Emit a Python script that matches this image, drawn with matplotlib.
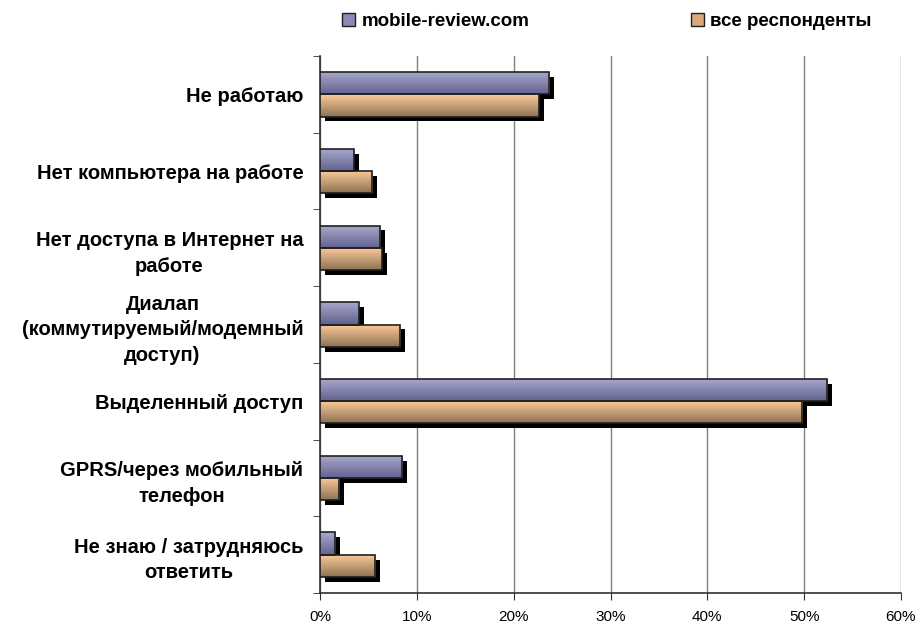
import numpy as np
import matplotlib
matplotlib.use("Agg")
import matplotlib.pyplot as plt
import matplotlib.patheffects as pe
from matplotlib.patches import Patch

plt.rcParams['font.family'] = ['Liberation Sans', 'DejaVu Sans']

categories = [
    "Не работаю",
    "Нет компьютера на работе",
    "Нет доступа в Интернет на\nработе",
    "Диалап\n(коммутируемый/модемный\nдоступ)",
    "Выделенный доступ",
    "GPRS/через мобильный\nтелефон",
    "Не знаю / затрудняюсь\nответить",
]
mobile_review = [23.7, 3.5, 6.2, 4.0, 52.4, 8.5, 1.6]
all_resp = [22.6, 5.4, 6.4, 8.3, 49.8, 2.0, 5.7]
series_names = ["mobile-review.com", "все респонденты"]
x_ticks = [0, 10, 20, 30, 40, 50, 60]


def gradient_bars(ax, bars, top_col, bot_col):
    grad = np.linspace(0, 1, 64).reshape(-1, 1)
    c1 = np.array(matplotlib.colors.to_rgb(top_col))
    c2 = np.array(matplotlib.colors.to_rgb(bot_col))
    img = c1 + (c2 - c1) * grad[..., None]
    for b in bars:
        x0, y0 = b.get_x(), b.get_y()
        w, h = b.get_width(), b.get_height()
        im = ax.imshow(img, extent=[x0, x0 + w, y0 + h, y0], aspect='auto',
                       origin='upper', zorder=3, interpolation='bilinear')
        im.set_clip_path(b)
        # outline on top
        ax.add_patch(plt.Rectangle((x0, y0), w, h, fill=False,
                                   edgecolor='#202020', lw=1.2, zorder=4))


fig = plt.figure(figsize=(9.15, 6.25), dpi=100)
ax = fig.add_axes([320 / 915, 32 / 625, 581 / 915, 537 / 625])

y = np.arange(len(categories))
h = 0.29
shadow = [pe.SimplePatchShadow(offset=(3.5, -3.5), shadow_rgbFace='black', alpha=1.0), pe.Normal()]

b1 = ax.barh(y - h / 2, mobile_review, height=h, color='#8a8ab4', zorder=3)
b2 = ax.barh(y + h / 2, all_resp, height=h, color='#d8a878', zorder=3)
for b in list(b1) + list(b2):
    b.set_path_effects(shadow)
gradient_bars(ax, b1, '#aaaace', '#62628f')
gradient_bars(ax, b2, '#ffcc99', '#8e7256')

ax.set_ylim(len(categories) - 0.5, -0.5)
ax.set_xlim(0, 60)
ax.set_xticks(x_ticks)
ax.set_xticklabels([f"{t}%" for t in x_ticks], fontsize=11)
ax.set_yticks(y)
ax.set_yticklabels(categories, fontsize=14.5, fontweight='bold', ha='right',
                   multialignment='center', linespacing=1.45)
ax.tick_params(axis='y', length=0, pad=12)
ax.set_yticks(np.arange(-0.5, len(categories), 1), minor=True)
ax.tick_params(axis='y', which='minor', length=5, direction='out', color='#303030')
ax.tick_params(axis='x', length=5, direction='out', color='#303030', pad=7)

ax.grid(axis='x', color='#808080', lw=1, zorder=0)
ax.set_axisbelow(True)
for s in ['top', 'right']:
    ax.spines[s].set_visible(False)
for s in ['left', 'bottom']:
    ax.spines[s].set_color('#303030')
    ax.spines[s].set_linewidth(1.2)

handles = [Patch(facecolor='#8a8ab4', edgecolor='#202020'),
           Patch(facecolor='#d8a878', edgecolor='#202020')]
fig.legend(handles, series_names, loc='center left', bbox_to_anchor=(342 / 915, 1 - 21.5 / 625),
           ncol=2, frameon=False, columnspacing=8.6, handlelength=0.7, handleheight=0.7,
           handletextpad=0.35, borderpad=0, borderaxespad=0,
           prop={'weight': 'bold', 'size': 13.5})

fig.savefig("out.png", dpi=100)
